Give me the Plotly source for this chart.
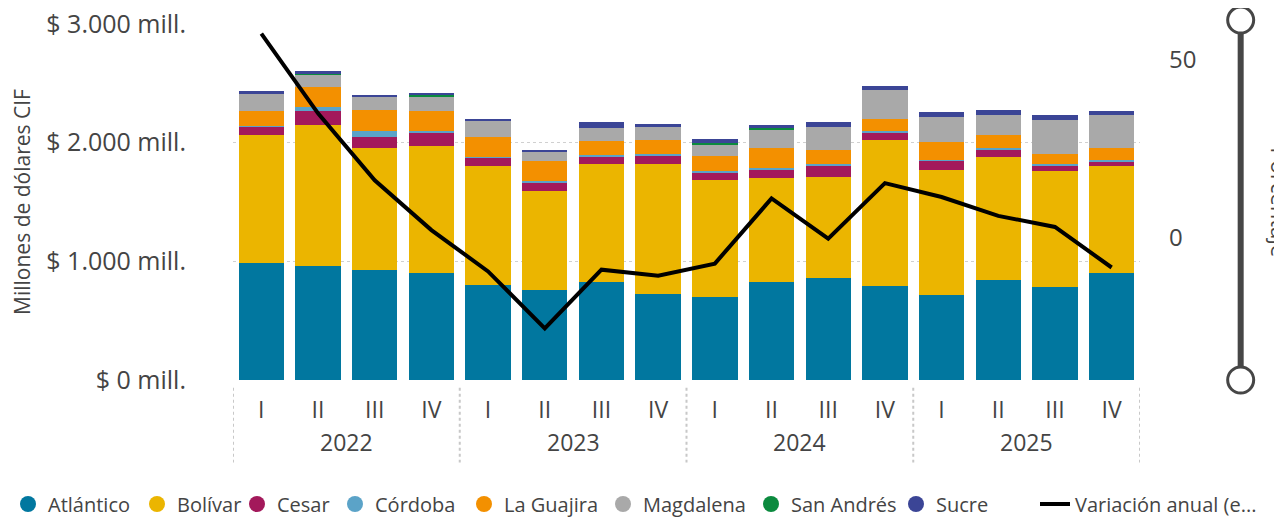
import plotly.graph_objects as go

years = ["2022", "2023", "2024", "2025"]
quarters = ["I", "II", "III", "IV"]

atlantico = [988, 963, 929, 904, 803, 761, 828, 727, 702, 828, 862, 795, 719, 845, 786, 904]
bolivar = [1076, 1185, 1026, 1067, 1000, 831, 992, 1093, 983, 874, 848, 1227, 1050, 1037, 975, 899]
cesar = [68, 118, 92, 118, 76, 76, 67, 67, 59, 67, 101, 59, 84, 64, 42, 42]
cordoba = [11, 34, 51, 9, 4, 9, 9, 20, 17, 17, 9, 17, 3, 9, 17, 8]
la_guajira = [123, 169, 179, 168, 164, 168, 118, 118, 126, 169, 118, 101, 152, 109, 84, 102]
magdalena = [144, 109, 107, 124, 135, 76, 109, 106, 101, 160, 193, 244, 211, 169, 286, 278]
san_andres = [0, 8, 0, 8, 0, 0, 0, 0, 9, 8, 0, 0, 0, 0, 0, 0]
sucre = [25, 14, 17, 20, 17, 17, 51, 26, 33, 25, 43, 34, 42, 42, 43, 33]

variacion = [57.3, 34.9, 16.1, 2.1, -9.5, -25.5, -9.0, -10.7, -7.3, 11.0, -0.3, 15.3, 11.4, 6.1, 3.0, -8.4]

series = [
    ("Atlántico", atlantico, "#01779F"),
    ("Bolívar", bolivar, "#EBB500"),
    ("Cesar", cesar, "#A3195B"),
    ("Córdoba", cordoba, "#5BA3C8"),
    ("La Guajira", la_guajira, "#F39000"),
    ("Magdalena", magdalena, "#A9A9A9"),
    ("San Andrés", san_andres, "#0B8A3E"),
    ("Sucre", sucre, "#3B4596"),
]

FONT = "Open Sans"
TXT = "#444444"

# left edge (px) of each legend entry, one legend per entry so the row never wraps
legend_left = [-1, 129, 229, 327, 456, 595, 743, 888, 1027]

periods = [f"{y} {q}" for y in years for q in quarters]
period_ticks = [q for y in years for q in quarters]

fig = go.Figure()

for i, (name, vals, color) in enumerate(series):
    lg = "legend" if i == 0 else f"legend{i + 1}"
    fig.add_trace(go.Bar(x=periods, y=vals, name=name, marker_color=color,
                         marker_line_width=0, showlegend=False))
    # circle markers for the legend
    fig.add_trace(go.Scatter(x=[None], y=[None], mode="markers", name=name, legend=lg,
                             marker=dict(symbol="circle", size=18, color=color)))

fig.add_trace(go.Scatter(x=periods, y=variacion, name="Variación anual (e...", mode="lines",
                         line=dict(color="black", width=4), yaxis="y2",
                         legend=f"legend{len(series) + 1}"))

# year labels and dotted dividers under the quarters
nq = len(quarters)
for i, yr in enumerate(years):
    fig.add_annotation(text=yr, x=i * nq + (nq - 1) / 2, xref="x", yref="paper", y=-0.174,
                       showarrow=False, yanchor="middle",
                       font=dict(size=23, color=TXT, family=FONT))
for i in range(len(years) + 1):
    fig.add_shape(type="line", xref="x", yref="paper", x0=i * nq - 0.5, x1=i * nq - 0.5,
                  y0=-0.022, y1=-0.232, line=dict(color="#c8c8c8", width=2, dash="dot"))

# slider decoration on the right
slider_x = 1.111
fig.add_shape(type="line", xref="paper", yref="paper", x0=slider_x, x1=slider_x,
              y0=0, y1=1.011, line=dict(color="#464646", width=6))
for yy in [0, 1.011]:
    fig.add_shape(type="circle", xref="paper", yref="paper",
                  xsizemode="pixel", ysizemode="pixel",
                  xanchor=slider_x, yanchor=yy, x0=-13, x1=13, y0=-13, y1=13,
                  fillcolor="white", line=dict(color="#464646", width=3))

fig.add_annotation(text="Porcentaje", xref="paper", yref="paper", x=1.154, y=0.5,
                   xanchor="center", yanchor="middle", textangle=90, showarrow=False,
                   font=dict(size=22, color=TXT, family=FONT))

W, H = 1282, 519
legends = {}
for i, left in enumerate(legend_left):
    key = "legend" if i == 0 else f"legend{i + 1}"
    legends[key] = dict(
        orientation="h",
        xref="container",
        yref="container",
        x=max(left, 0) / W,
        xanchor="left",
        y=1 - 496 / H,
        yanchor="middle",
        font=dict(size=20, color=TXT),
        itemwidth=30,
        bgcolor="rgba(0,0,0,0)",
    )

# page body adds ~8px offset, so margins are trimmed by that amount
fig.update_layout(
    barmode="stack",
    bargap=0.2,
    width=W,
    height=H,
    plot_bgcolor="white",
    paper_bgcolor="white",
    font=dict(family=FONT, size=20, color=TXT),
    margin=dict(l=225, r=150, t=16, b=147, autoexpand=False),
    xaxis=dict(
        type="category",
        tickvals=periods,
        ticktext=period_ticks,
        showgrid=False,
        ticks="",
        tickfont=dict(size=23, color=TXT),
        ticklabelstandoff=14,
        showline=False,
        automargin=False,
        range=[-0.5, len(periods) - 0.5],
    ),
    yaxis=dict(
        range=[0, 3000],
        tickvals=[0, 1000, 2000, 3000],
        ticktext=["$ 0 mill.", "$ 1.000 mill.", "$ 2.000 mill.", "$ 3.000 mill."],
        showgrid=True,
        gridcolor="#d0d0d0",
        griddash="dot",
        gridwidth=1,
        zeroline=False,
        ticks="",
        ticklabelstandoff=46,
        ticklabeloverflow="allow",
        tickfont=dict(size=25, color=TXT),
        title=dict(text="Millones de dólares CIF", font=dict(size=21, color=TXT), standoff=14),
    ),
    yaxis2=dict(
        overlaying="y",
        side="right",
        range=[-40, 60],
        tickvals=[0, 50],
        showgrid=False,
        zeroline=False,
        ticklabelstandoff=28,
        ticklabeloverflow="allow",
        tickfont=dict(size=24, color=TXT),
        automargin=False,
    ),
    **legends,
)

fig.write_html("out.html")
